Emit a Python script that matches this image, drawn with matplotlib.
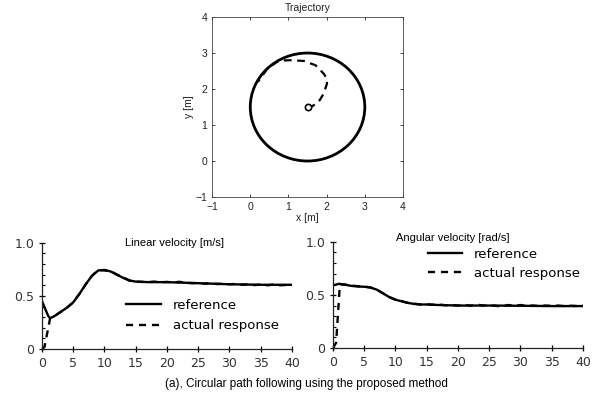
import matplotlib
matplotlib.use("Agg")
import matplotlib.pyplot as plt
from matplotlib.patches import Circle
from matplotlib.ticker import MultipleLocator

# ---------------- data ----------------
# trajectory (top)
circle_center = (1.5, 1.5)
circle_radius = 1.5
traj_act_x = [1.50, 1.62, 1.79, 1.92, 2.01, 2.00, 1.92, 1.71, 1.40, 1.06, 0.75, 0.45, 0.20]
traj_act_y = [1.50, 1.52, 1.64, 1.87, 2.15, 2.30, 2.43, 2.66, 2.78, 2.80, 2.79, 2.57, 2.20]
traj_xticks = [-1, 0, 1, 2, 3, 4]
traj_yticks = [-1, 0, 1, 2, 3, 4]

# linear velocity (bottom left)
t_lin_ref = [0, 0.5, 1, 1.3, 2, 3, 4, 5, 6, 7, 8, 9, 10, 11, 12, 13, 14, 15, 17, 20, 25, 30, 35, 40]
v_lin_ref = [0.45, 0.38, 0.31, 0.29, 0.31, 0.35, 0.39, 0.44, 0.52, 0.61, 0.69, 0.74, 0.745, 0.73,
             0.70, 0.67, 0.645, 0.635, 0.63, 0.63, 0.62, 0.61, 0.605, 0.605]
t_lin_act = [0, 0.4, 1.3, 2, 3, 4, 5, 6, 7, 8, 9, 10, 11, 12, 13, 14, 15, 16, 17, 18, 19, 20,
             21, 22, 23, 24, 25, 26, 27, 28, 29, 30, 31, 32, 33, 34, 35, 36, 37, 38, 39, 40]
v_lin_act = [0.0, 0.02, 0.29, 0.31, 0.35, 0.39, 0.44, 0.52, 0.61, 0.69, 0.745, 0.74, 0.735, 0.70,
             0.675, 0.645, 0.635, 0.632, 0.63, 0.635, 0.628, 0.632, 0.627, 0.633, 0.625, 0.62,
             0.622, 0.615, 0.62, 0.612, 0.615, 0.61, 0.613, 0.605, 0.61, 0.602, 0.607, 0.60,
             0.606, 0.60, 0.603, 0.605]

# angular velocity (bottom right)
t_ang_ref = [0, 1, 2, 3, 4, 5, 6, 7, 8, 9, 10, 11, 12, 13, 14, 15, 17, 20, 25, 30, 35, 40]
w_ang_ref = [0.59, 0.605, 0.595, 0.585, 0.58, 0.577, 0.57, 0.55, 0.515, 0.48, 0.455, 0.44,
             0.425, 0.415, 0.41, 0.41, 0.405, 0.40, 0.40, 0.398, 0.395, 0.395]
t_ang_act = [0, 0.5, 1.1, 2, 3, 4, 5, 6, 7, 8, 9, 10, 11, 12, 13, 14, 15, 16, 17, 18, 19, 20,
             21, 22, 23, 24, 25, 26, 27, 28, 29, 30, 31, 32, 33, 34, 35, 36, 37, 38, 39, 40]
w_ang_act = [0.0, 0.05, 0.60, 0.598, 0.588, 0.582, 0.58, 0.57, 0.552, 0.515, 0.48, 0.455, 0.44,
             0.425, 0.418, 0.41, 0.412, 0.408, 0.41, 0.402, 0.405, 0.40, 0.408, 0.398, 0.41,
             0.40, 0.403, 0.398, 0.39, 0.405, 0.40, 0.405, 0.398, 0.40, 0.395, 0.40, 0.397,
             0.40, 0.395, 0.398, 0.396, 0.398]

bottom_xticks = [0, 5, 10, 15, 20, 25, 30, 35, 40]
bottom_yticks = [0, 0.5, 1.0]
bottom_yticklabels = ["0", "0.5", "1.0"]

# ---------------- figure ----------------
fig = plt.figure(figsize=(6.06, 3.96), dpi=100)
fig.patch.set_facecolor("white")

arial = "Liberation Sans"
sans = "DejaVu Sans"


def fmt(v):
    return str(v).replace("-", "\u2212")


# top trajectory plot
ax0 = fig.add_axes([0.350, 0.5025, 0.315, 0.4545])
ax0.add_patch(Circle(circle_center, circle_radius, fill=False, lw=2.0, color="black"))
ax0.plot(traj_act_x, traj_act_y, ls=(0, (3.5, 2.5)), lw=1.6, color="black")
ax0.plot(traj_act_x[0], traj_act_y[0], marker="o", ms=4.5, mfc="white", mec="black", mew=1.2)
ax0.set_xlim(-1, 4)
ax0.set_ylim(-1, 4)
ax0.set_xticks(traj_xticks)
ax0.set_yticks(traj_yticks)
ax0.set_xticklabels([fmt(v) for v in traj_xticks], fontfamily=arial, fontsize=7.5)
ax0.set_yticklabels([fmt(v) for v in traj_yticks], fontfamily=arial, fontsize=7.5)
ax0.tick_params(direction="in", length=2.5, width=0.6, top=True, right=True, pad=3.5, colors="#222222")
for s in ax0.spines.values():
    s.set_linewidth(0.6)
    s.set_color("#444444")
ax0.set_title("Trajectory", fontfamily=arial, fontsize=7.5, pad=4.5, color="#222222")
ax0.set_xlabel("x [m]", fontfamily=arial, fontsize=7.5, labelpad=1, color="#222222")
ax0.set_ylabel("y [m]", fontfamily=arial, fontsize=7.5, labelpad=1, color="#222222")


def style_bottom(ax):
    ax.set_xlim(0, 40)
    ax.set_ylim(0, 1.0)
    ax.spines["top"].set_visible(False)
    ax.spines["right"].set_visible(False)
    for s in ("left", "bottom"):
        ax.spines[s].set_linewidth(0.9)
        ax.spines[s].set_color("#222222")
    ax.set_xticks(bottom_xticks)
    ax.set_xticklabels([str(v) for v in bottom_xticks], fontfamily=sans, fontsize=9, color="#333333")
    ax.set_yticks(bottom_yticks)
    ax.set_yticklabels(bottom_yticklabels, fontfamily=sans, fontsize=9, color="#333333")
    ax.yaxis.set_minor_locator(MultipleLocator(0.1))
    ax.tick_params(axis="x", which="major", direction="inout", length=5, width=0.9, pad=3)
    ax.tick_params(axis="y", which="major", direction="inout", length=5, width=0.9, pad=3)
    ax.tick_params(axis="y", which="minor", direction="in", length=2.5, width=0.8)


ax1 = fig.add_axes([0.0693, 0.1187, 0.4125, 0.268])
ax1.plot(t_lin_act, v_lin_act, color="black", lw=1.7, ls=(0, (3, 2.5)), label="actual response")
ax1.plot(t_lin_ref, v_lin_ref, color="black", lw=1.7, label="reference")
style_bottom(ax1)
ax1.text(0.53, 1.0, "Linear velocity [m/s]", transform=ax1.transAxes, ha="center", va="center",
         fontfamily=arial, fontsize=8)
h, l = ax1.get_legend_handles_labels()
ax1.legend([h[1], h[0]], [l[1], l[0]], loc="upper left", bbox_to_anchor=(0.338, 0.47),
           frameon=False, prop={"family": sans, "size": 9.5}, handlelength=2.6, handletextpad=0.9,
           labelspacing=0.55, borderaxespad=0, borderpad=0)

ax2 = fig.add_axes([0.5495, 0.1212, 0.4125, 0.268])
ax2.plot(t_ang_act, w_ang_act, color="black", lw=1.7, ls=(0, (3, 2.5)), label="actual response")
ax2.plot(t_ang_ref, w_ang_ref, color="black", lw=1.7, label="reference")
style_bottom(ax2)
ax2.text(0.48, 1.04, "Angular velocity [rad/s]", transform=ax2.transAxes, ha="center", va="center",
         fontfamily=arial, fontsize=8)
h, l = ax2.get_legend_handles_labels()
ax2.legend([h[1], h[0]], [l[1], l[0]], loc="upper left", bbox_to_anchor=(0.38, 0.945),
           frameon=False, prop={"family": sans, "size": 9.5}, handlelength=2.6, handletextpad=0.9,
           labelspacing=0.45, borderaxespad=0, borderpad=0)

fig.text(0.505, 0.030, "(a), Circular path following using the proposed method",
         ha="center", va="center", fontfamily=arial, fontsize=8.5)

fig.savefig("out.png", dpi=100, facecolor="white")
